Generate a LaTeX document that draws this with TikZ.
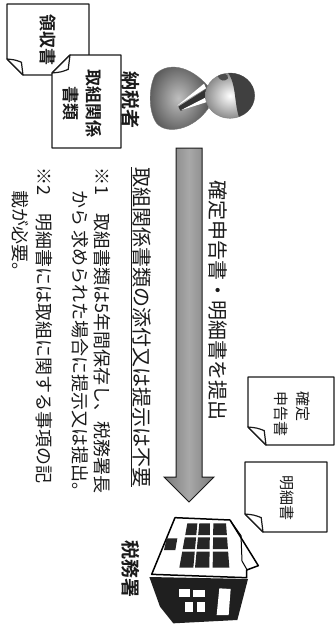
\documentclass[tikz,border=0pt]{standalone}
\usepackage{fontspec}
\setmainfont{Noto Sans CJK JP}[BoldFont={Noto Sans CJK JP Bold}]
\usetikzlibrary{calc}
\definecolor{ink}{HTML}{1A1A1A}
\tikzset{
  paper/.style={draw=ink, line width=1.2pt, fill=white, line join=round},
  txt/.style={rotate=-90, inner sep=0pt, text=ink},
  who/.style={txt, font=\fontsize{19}{19}\selectfont\bfseries},
  doctxt/.style={txt, align=center, font=\fontsize{17}{23}\selectfont\bfseries},
  formtxt/.style={txt, font=\fontsize{15}{22}\selectfont},
  lead/.style={txt, anchor=west, font=\fontsize{20}{20}\selectfont},
  note/.style={txt, anchor=west, font=\fontsize{18}{18}\selectfont},
  win/.style={fill=black!85},
}
% sheet of paper, dog-ear at the lower left / upper left corner
\newcommand{\sheetlow}[5]{%
  \draw[paper] (#1,#2) -- (#3,#2) -- (#3,#4) -- (#1+#5,#4) -- (#1,#4-#5) -- cycle;
  \draw[paper] (#1,#4-#5) .. controls (#1+0.5*#5,#4-0.95*#5) .. (#1+0.9*#5,#4-0.8*#5) -- (#1+#5,#4) -- cycle;}
\newcommand{\sheetup}[5]{%
  \draw[paper] (#1+#5,#2) -- (#3,#2) -- (#3,#4) -- (#1,#4) -- (#1,#2+#5) -- cycle;
  \draw[paper] (#1,#2+#5) .. controls (#1+0.5*#5,#2+0.95*#5) .. (#1+0.9*#5,#2+0.8*#5) -- (#1+#5,#2) -- cycle;}

\begin{document}
\begin{tikzpicture}[x=1pt, y=-1pt]
  \useasboundingbox (0,0) rectangle (336,629);
  % papers on the taxpayer side
  \sheetlow{7}{4}{89}{75}{16}
  \node[doctxt] (receipt) at (48,40) {領収書};
  \sheetup{52}{55}{121}{148}{18}
  \node[doctxt] (records) at (82,103) {取組関係\\書類};
  % taxpayer
  \begin{scope}[shift={(140,55)}, scale=1/3]
    \shade[inner color=black!25, outer color=black!65, draw=black!55]
      (205,95) .. controls (150,30) and (80,20) .. (45,60)
      .. controls (25,100) and (25,170) .. (50,205)
      .. controls (80,240) and (160,225) .. (205,160) -- cycle;
    \fill[black!80] (200,102) -- (115,155) -- (122,168) -- (200,126) -- cycle;
    \fill[white] (192,86) -- (112,152) -- (198,100) -- cycle;
    \fill[white] (200,126) -- (122,166) -- (204,140) -- cycle;
    \shade[inner color=white, outer color=black!45, draw=black!50]
      (270,122) ellipse [x radius=74, y radius=68];
    \begin{scope}
      \clip (270,122) ellipse [x radius=74, y radius=68];
      \fill[black!75] (262,50) .. controls (292,90) and (280,150) .. (302,200) -- (350,200) -- (350,50) -- cycle;
      \fill[black!70] (232,62) .. controls (250,52) and (266,56) .. (264,70) .. controls (256,80) and (240,80) .. cycle;
    \end{scope}
  \end{scope}
  \node[who] (payer) at (131,100) {納税者};

  % submission arrow
  \coordinate (send) at (189,148);
  \coordinate (recv) at (189,502);
  \shade[left color=black!52, right color=black!52, middle color=black!34, draw=ink, line width=1pt]
    ($(send)+(-13,0)$) -- ($(send)+(13,0)$) -- ($(recv)+(13,-25)$) -- ($(recv)+(25,-25)$) -- (recv)
    -- ($(recv)+(-25,-25)$) -- ($(recv)+(-13,-25)$) -- cycle;
  \node[lead] (submit) at (218,180) {確定申告書・明細書を提出};
  \node[lead] (noneed) at (141,167) {\underline{取組関係書類の添付又は提示は不要}};

  % remarks
  \node[note] (note1) at (102,167) {※1　取組書類は5年間保存し、税務署長};
  \node[note] (note1b) at (80,190) {から 求められた場合に提示又は提出。};
  \node[note] (note2) at (44,167) {※2　明細書には取組に関する事項の記};
  \node[note] (note2b) at (20,190) {載が必要。};

  % tax office
  \begin{scope}[shift={(140,505)}, scale=1/3]
    \draw[fill=white, line width=1.5pt, line join=round]
      (105,38) -- (270,45) -- (355,182) -- (320,195) -- (320,218) -- (35,208) -- cycle;
    \draw[line width=1pt] (272,48) -- (303,92) -- (306,168) -- (322,196);
    \foreach \ya/\yb in {55/90, 97/132, 140/188}
      \foreach \la/\lb/\ra/\rb in {142/118/172/160, 178/165/210/208, 220/218/258/268}
        \fill[win] ({\la+(\lb-\la)*(\ya-55)/133},\ya) -- ({\ra+(\rb-\ra)*(\ya-55)/133},\ya)
          -- ({\ra+(\rb-\ra)*(\yb-55)/133},\yb) -- ({\la+(\lb-\la)*(\yb-55)/133},\yb) -- cycle;
    \fill[win] (80,100) -- (112,100) -- (106,135) -- (72,135) -- cycle;
    \fill[black!88] (28,216) -- (324,222) -- (292,345) -- (100,355) -- (60,305) -- cycle;
    \fill[white] (118,252) rectangle (150,276);
    \fill[white] (160,256) rectangle (196,276);
    \fill[white] (135,290) rectangle (160,322);
    \fill[white] (172,292) rectangle (196,322);
    \fill[white] (238,250) -- (272,252) -- (266,330) -- (230,330) -- cycle;
  \end{scope}
  \node[who] (office) at (131,569) {税務署};

  % papers handed in
  \sheetlow{248}{377}{334}{445}{18}
  \node[formtxt, align=left] (taxreturn) at (292,414) {確定\\申告書};
  \sheetlow{245}{462}{327}{532}{18}
  \node[formtxt] (statement) at (287,498) {明細書};
\end{tikzpicture}
\end{document}
